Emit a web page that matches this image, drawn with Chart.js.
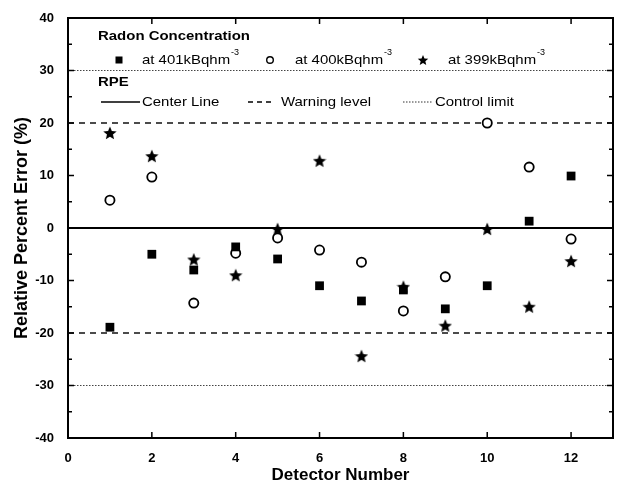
<!DOCTYPE html>
<html><head><meta charset="utf-8">
<script src="https://cdn.jsdelivr.net/npm/chart.js@4/dist/chart.umd.min.js"></script>
<style>html,body{margin:0;padding:0;background:#fff}</style>
</head><body>
<canvas id="c" width="621" height="492"></canvas>
<script>
// ---- data ----
const detectors = [1,2,3,4,5,6,7,8,9,10,11,12];
const rpe401 = [-18.9,-5.0,-8.0,-3.6,-5.9,-11.0,-13.9,-11.8,-15.4,-11.0,1.3,9.9];
const rpe400 = [5.3,9.7,-14.3,-4.8,-1.9,-4.2,-6.5,-15.8,-9.3,20.0,11.6,-2.1];
const rpe399 = [18.1,13.7,-6.0,-9.0,-0.2,12.8,-24.4,-11.2,-18.6,-0.2,-15.0,-6.3];
const centerLine = [0];
const warningLevels = [20,-20];
const controlLimits = [30,-30];
const xRange = [0,13];
const yRange = [-40,40];
const legendTitle = 'Radon Concentration';
const seriesLabels = ['at 401kBqhm','at 400kBqhm','at 399kBqhm'];
const unitSup = '-3';
const rpeTitle = 'RPE';
const lineLabels = ['Center Line','Warning level','Control limit'];
const xTitle = 'Detector Number';
const yTitle = 'Relative Percent Error (%)';

// ---- helpers ----
const FONT = '"Liberation Sans", Arial, sans-serif';
function starPath(ctx, cx, cy, R){
  const r = R*0.45;
  ctx.beginPath();
  for(let i=0;i<10;i++){
    const a = -Math.PI/2 + i*Math.PI/5;
    const rr = i%2===0?R:r;
    const px = cx+rr*Math.cos(a), py = cy+rr*Math.sin(a);
    if(i===0) ctx.moveTo(px,py); else ctx.lineTo(px,py);
  }
  ctx.closePath();
}
function makeStar(size){
  const c = document.createElement('canvas');
  c.width = size; c.height = size;
  const g = c.getContext('2d');
  g.fillStyle = '#000';
  starPath(g, size/2, size/2+0.6, size/2);
  g.fill();
  return c;
}
const starImg = makeStar(14);
const pts = ys => detectors.map((d,i)=>({x:d,y:ys[i]}));
const hline = v => [{x:xRange[0],y:v},{x:xRange[1],y:v}];

const datasets = [
  {label:seriesLabels[0], data:pts(rpe401), pointStyle:'rect', pointRadius:6.2, backgroundColor:'#000', borderColor:'#000', borderWidth:0, showLine:false},
  {label:seriesLabels[1], data:pts(rpe400), pointStyle:'circle', pointRadius:4.6, backgroundColor:'#fff', borderColor:'#000', borderWidth:1.8, showLine:false},
  {label:seriesLabels[2], data:pts(rpe399), pointStyle:starImg, pointRadius:6, backgroundColor:'#000', borderColor:'#000', showLine:false},
];
centerLine.forEach(v=>datasets.push({label:lineLabels[0], data:hline(v), showLine:true, pointRadius:0, borderColor:'#000', borderWidth:2}));
warningLevels.forEach(v=>datasets.push({label:lineLabels[1], data:hline(v), showLine:true, pointRadius:0, borderColor:'#111', borderWidth:1.5, borderDash:[6,5]}));
controlLimits.forEach(v=>datasets.push({label:lineLabels[2], data:hline(v), showLine:true, pointRadius:0, borderColor:'#444', borderWidth:1, borderDash:[1.5,1.5]}));

function txt(ctx, s, x, y, font, sx){
  ctx.save();
  ctx.font = font;
  ctx.translate(x,y);
  ctx.scale(sx,1);
  ctx.fillText(s,0,0);
  const w = ctx.measureText(s).width*sx;
  ctx.restore();
  return w;
}

const framePlugin = {
  id:'frame',
  afterDatasetsDraw(chart){
    const {ctx, chartArea:a, scales:{x,y}} = chart;
    ctx.save();
    ctx.strokeStyle = '#000';
    ctx.lineWidth = 2;
    ctx.strokeRect(a.left, a.top, a.right-a.left, a.bottom-a.top);
    ctx.lineWidth = 1.5;
    ctx.beginPath();
    for(let v=xRange[0]; v<=xRange[1]; v+=2){
      const px = x.getPixelForValue(v);
      ctx.moveTo(px,a.bottom); ctx.lineTo(px,a.bottom-6);
      ctx.moveTo(px,a.top); ctx.lineTo(px,a.top+6);
    }
    for(let v=yRange[0]; v<=yRange[1]; v+=5){
      const py = y.getPixelForValue(v);
      const len = (v%10===0)?6:4;
      ctx.moveTo(a.left,py); ctx.lineTo(a.left+len,py);
      ctx.moveTo(a.right,py); ctx.lineTo(a.right-len,py);
    }
    ctx.stroke();

    // legend
    ctx.fillStyle = '#000';
    ctx.textBaseline = 'middle';
    ctx.textAlign = 'left';
    const sx = 1.15;
    const reg = '13px '+FONT, bold = 'bold 13px '+FONT, sup = '9px '+FONT;
    txt(ctx, legendTitle, 98, 36, bold, sx);
    // series row
    const rowY = 60;
    const mk = [119, 270, 423], tx = [142, 295, 448];
    ctx.fillRect(mk[0]-3.5, rowY-3.5, 7, 7);
    ctx.beginPath(); ctx.arc(mk[1], rowY, 3.3, 0, Math.PI*2);
    ctx.lineWidth = 1.4; ctx.stroke();
    starPath(ctx, mk[2], rowY+0.5, 5.5); ctx.fill();
    for(let i=0;i<3;i++){
      const w = txt(ctx, seriesLabels[i], tx[i], rowY, reg, sx);
      txt(ctx, unitSup, tx[i]+w+1, rowY-7, sup, 1);
    }
    txt(ctx, rpeTitle, 98, 82, bold, sx);
    const lY = 102;
    ctx.lineWidth = 1.5;
    ctx.beginPath(); ctx.moveTo(101,lY); ctx.lineTo(140,lY); ctx.stroke();
    txt(ctx, lineLabels[0], 142, lY, reg, sx);
    ctx.setLineDash([5,4]);
    ctx.beginPath(); ctx.moveTo(248,lY); ctx.lineTo(274,lY); ctx.stroke();
    txt(ctx, lineLabels[1], 281, lY, reg, sx);
    ctx.setLineDash([1.5,1.5]); ctx.lineWidth = 1; ctx.strokeStyle='#333';
    ctx.beginPath(); ctx.moveTo(403,lY); ctx.lineTo(432,lY); ctx.stroke();
    ctx.setLineDash([]);
    txt(ctx, lineLabels[2], 435, lY, reg, sx);
    ctx.restore();
  }
};

new Chart(document.getElementById('c'), {
  type:'scatter',
  data:{datasets},
  options:{
    responsive:false, animation:false, devicePixelRatio:1,
    layout:{padding:{top:18,right:8,left:0,bottom:0}},
    plugins:{legend:{display:false}, tooltip:{enabled:false}},
    scales:{
      x:{type:'linear', min:xRange[0], max:xRange[1],
        ticks:{stepSize:2, includeBounds:false, padding:5, color:'#000', font:{family:FONT, weight:'bold', size:13}},
        grid:{display:false}, border:{display:false},
        title:{display:true, text:xTitle, color:'#000', font:{family:FONT, weight:'bold', size:17}, padding:{top:0,bottom:6}},
        afterFit(s){ s.height = 54; }
      },
      y:{type:'linear', min:yRange[0], max:yRange[1],
        ticks:{stepSize:10, padding:6, color:'#000', font:{family:FONT, weight:'bold', size:13}},
        grid:{display:false}, border:{display:false},
        title:{display:true, text:yTitle, color:'#000', font:{family:FONT, weight:'bold', size:18}, padding:{top:11,bottom:0}},
        afterFit(s){ s.width = 68; }
      }
    }
  },
  plugins:[framePlugin]
});
</script>
</body></html>
